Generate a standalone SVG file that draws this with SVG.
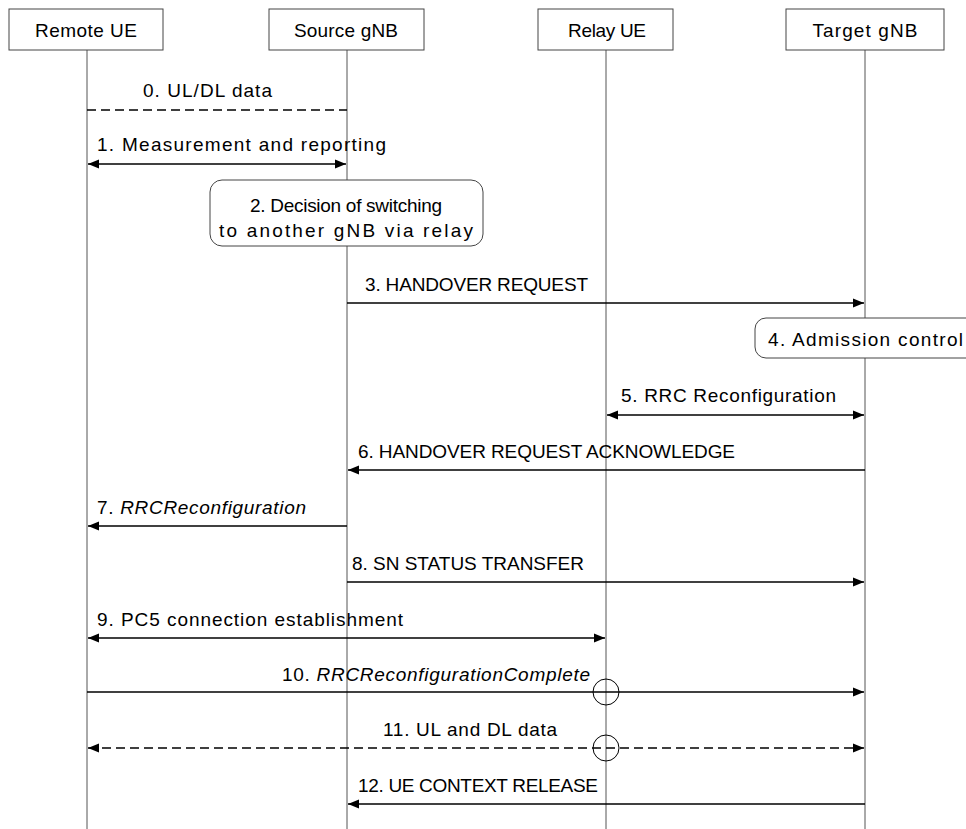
<svg xmlns="http://www.w3.org/2000/svg" width="966" height="829" viewBox="0 0 966 829">
<style>
text{font-family:"Liberation Sans",Arial,sans-serif;font-size:19px;fill:#000}
.box{fill:#fff;stroke:#444;stroke-width:1}
.life{stroke:#555;stroke-width:1;fill:none}
.msg{stroke:#000;stroke-width:1.3;fill:none}
.dash{stroke-dasharray:9 5}
.it{font-style:italic}
.c{text-anchor:middle}
</style>
<defs>
<marker id="ah" markerUnits="userSpaceOnUse" markerWidth="12" markerHeight="10" refX="11" refY="5" orient="auto-start-reverse">
<path d="M0,0.5 L11,5 L0,9.5 Z" fill="#000"/>
</marker>
</defs>
<g id="lifelines">
<line class="life" x1="87" y1="50" x2="87" y2="829"/>
<line class="life" x1="347" y1="50" x2="347" y2="829"/>
<line class="life" x1="606" y1="50" x2="606" y2="829"/>
<line class="life" x1="865" y1="50" x2="865" y2="829"/>
</g>
<g id="remote-ue"><rect class="box" x="9" y="9" width="154" height="41"/><text x="86" y="37" class="c" textLength="102">Remote UE</text></g>
<g id="source-gnb"><rect class="box" x="269" y="9" width="155" height="41"/><text x="346" y="37" class="c" textLength="104">Source gNB</text></g>
<g id="relay-ue"><rect class="box" x="538" y="9" width="135" height="41"/><text x="607" y="37" class="c" textLength="78">Relay UE</text></g>
<g id="target-gnb"><rect class="box" x="786" y="9" width="158" height="41"/><text x="865" y="37" class="c" textLength="105">Target gNB</text></g>
<g id="decision"><rect class="box" x="210" y="180" width="273" height="66" rx="12"/><text x="346" y="212" class="c" textLength="192">2. Decision of switching</text><text x="346" y="237" class="c" textLength="254">to another gNB via relay</text></g>
<g id="admission"><rect class="box" x="755" y="318" width="225" height="40" rx="11"/><text x="768" y="346" textLength="195">4. Admission control</text></g>
<g id="connectors">
<line class="msg dash" x1="87" y1="110" x2="347" y2="110"/>
<line class="msg" x1="88" y1="164" x2="346" y2="164" marker-start="url(#ah)" marker-end="url(#ah)"/>
<line class="msg" x1="347" y1="303" x2="864" y2="303" marker-end="url(#ah)"/>
<line class="msg" x1="607" y1="415" x2="864" y2="415" marker-start="url(#ah)" marker-end="url(#ah)"/>
<line class="msg" x1="865" y1="470" x2="348" y2="470" marker-end="url(#ah)"/>
<line class="msg" x1="347" y1="526" x2="88" y2="526" marker-end="url(#ah)"/>
<line class="msg" x1="347" y1="582" x2="864" y2="582" marker-end="url(#ah)"/>
<line class="msg" x1="88" y1="638" x2="605" y2="638" marker-start="url(#ah)" marker-end="url(#ah)"/>
<line class="msg" x1="87" y1="692" x2="864" y2="692" marker-end="url(#ah)"/>
<circle cx="606" cy="692" r="13" fill="none" stroke="#000" stroke-width="1"/>
<line class="msg dash" x1="88" y1="748" x2="864" y2="748" marker-start="url(#ah)" marker-end="url(#ah)"/>
<circle cx="606" cy="748" r="13" fill="none" stroke="#000" stroke-width="1"/>
<line class="msg" x1="865" y1="804" x2="348" y2="804" marker-end="url(#ah)"/>
</g>
<g id="labels">
<text x="143" y="97" textLength="129">0. UL/DL data</text>
<text x="97" y="151" textLength="289">1. Measurement and reporting</text>
<text x="365" y="291" textLength="223">3. HANDOVER REQUEST</text>
<text x="621" y="402" textLength="215">5. RRC Reconfiguration</text>
<text x="358" y="458" textLength="377">6. HANDOVER REQUEST ACKNOWLEDGE</text>
<text x="97" y="514" textLength="209">7. <tspan class="it">RRCReconfiguration</tspan></text>
<text x="352" y="570" textLength="232">8. SN STATUS TRANSFER</text>
<text x="97" y="626" textLength="306">9. PC5 connection establishment</text>
<text x="282" y="681" textLength="308">10. <tspan class="it">RRCReconfigurationComplete</tspan></text>
<text x="383" y="736" textLength="174">11. UL and DL data</text>
<text x="358" y="792" textLength="240">12. UE CONTEXT RELEASE</text>
</g>
</svg>
